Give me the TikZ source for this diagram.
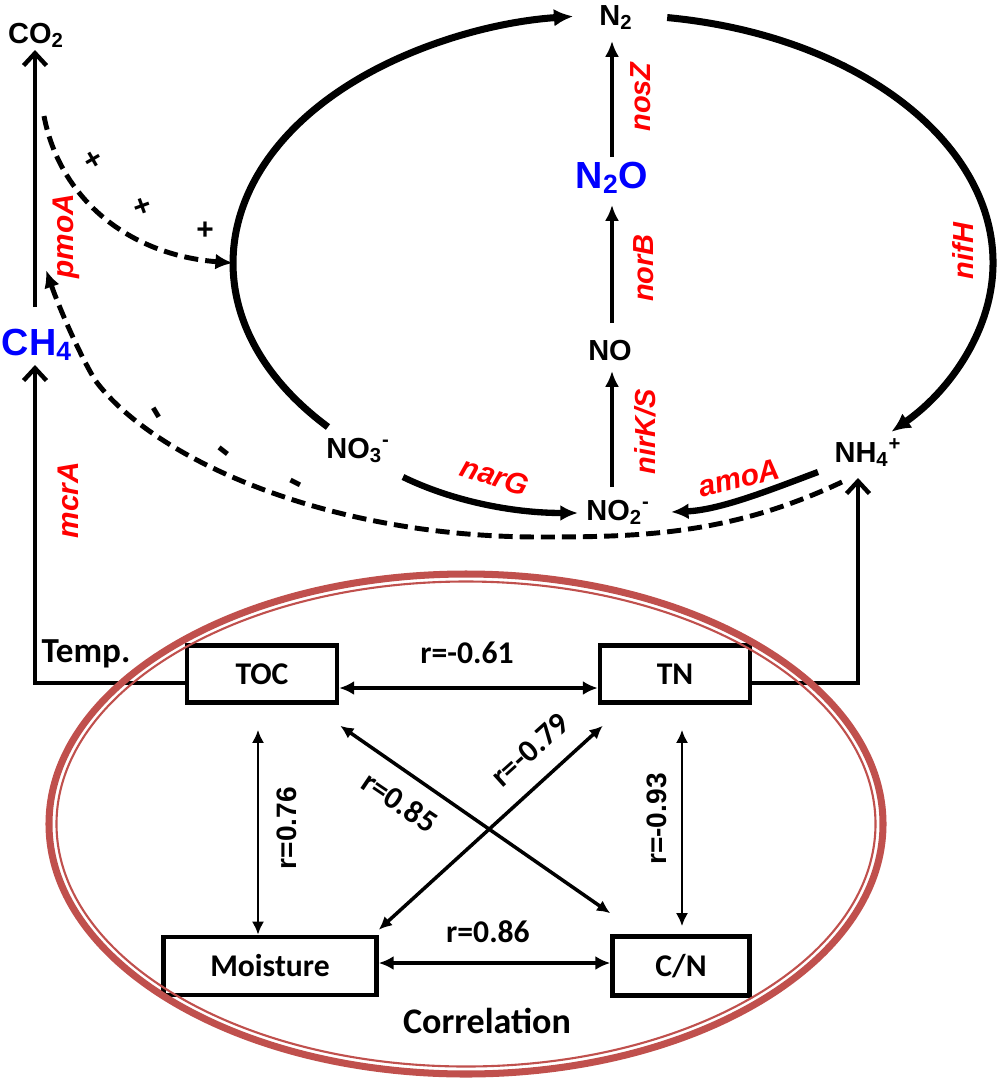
\documentclass[tikz,border=0pt]{standalone}
\usepackage{fontspec}
\setmainfont{Liberation Sans}
\newfontfamily\carl{Carlito}
\usetikzlibrary{arrows.meta,calc}
\definecolor{ellred}{RGB}{192,80,77}
\begin{document}
\begin{tikzpicture}[x=0.02cm,y=-0.02cm,
  chem/.style={font=\fontsize{16.5}{18}\selectfont\bfseries, inner sep=0pt, anchor=base},
  bigchem/.style={font=\fontsize{21.5}{24}\selectfont\bfseries, text=blue, inner sep=0pt, anchor=base},
  gene/.style={font=\fontsize{16.5}{18}\selectfont\bfseries\itshape, text=red, inner sep=0pt},
  genebig/.style={font=\fontsize{17}{19}\selectfont\bfseries\itshape, text=red, inner sep=0pt},
  box/.style={draw, line width=2.6pt, inner sep=0pt, font=\carl\bfseries\fontsize{18}{20}\selectfont},
  rlab/.style={font=\carl\bfseries\fontsize{18}{20}\selectfont, inner sep=0pt},
  rlabA/.style={font=\bfseries\fontsize{16}{18}\selectfont, inner sep=0pt},
  pm/.style={font=\bfseries\fontsize{17}{19}\selectfont, inner sep=0pt},
  mm/.style={font=\bfseries\fontsize{24}{26}\selectfont, inner sep=0pt},
  thinarr/.style={line width=2.3pt, -{Latex[length=9pt,width=8pt]}},
  bigarc/.style={line width=4pt, -{Latex[length=11pt,width=10pt]}},
  fatarr/.style={line width=3.6pt, -{Latex[length=10pt,width=9pt]}},
  chev/.style={line width=2.5pt, -{Straight Barb[length=7pt,width=13pt]}},
  dashl/.style={line width=2.8pt, dash pattern=on 8pt off 4pt},
  corr/.style={line width=1.6pt, {Latex[length=7.5pt,width=7pt]}-{Latex[length=7.5pt,width=7pt]}},
  corrh/.style={line width=2.3pt, {Latex[length=8.5pt,width=8pt]}-{Latex[length=8.5pt,width=8pt]}}
]
\useasboundingbox (0,0) rectangle (1000,1086);

% ---------- chemical species ----------
\node[chem] (co2) at (36,43) {CO\textsubscript{2}};
\node[bigchem] (ch4) at (37,355) {CH\textsubscript{4}};
\node[chem] (n2) at (616,25) {N\textsubscript{2}};
\node[bigchem] (n2o) at (612,188) {N\textsubscript{2}O};
\node[chem] (no) at (610,360) {NO};
\node[chem] (no3) at (358,458) {NO\textsubscript{3}\textsuperscript{-}};
\node[chem] (no2) at (618,520) {NO\textsubscript{2}\textsuperscript{-}};
\node[chem] (nh4) at (868,462) {NH\textsubscript{4}\textsuperscript{+}};

% ---------- N cycle ellipse arcs ----------
\coordinate (nc) at (613,263);
\draw[bigarc] ($(nc)+(138.6:380 and 248)$) arc[start angle=138.6, end angle=264, x radius=380, y radius=248];
\draw[bigarc] ($(nc)+(-81.8:380 and 248)$) arc[start angle=-81.8, end angle=42.9, x radius=380, y radius=248];

% ---------- vertical denitrification arrows ----------
\draw[thinarr] ($(n2o.base)+(0,-31)$) -- ($(n2.base)+(-4,16)$);
\draw[thinarr] ($(no.base)+(2,-37)$) -- ($(n2o.base)+(0,17)$);
\draw[thinarr] ($(no2.base)+(-6,-33)$) -- ($(no.base)+(2,11)$);

% ---------- narG / amoA ----------
\draw[fatarr] ($(no3.base)+(45,19)$) .. controls (450,500) and (510,513) .. ($(no2.base)+(-40,-7)$);
\draw[fatarr] ($(nh4.base)+(-50,10)$) .. controls (770,490) and (720,510) .. ($(no2.base)+(53,-8)$);

% ---------- CH4 -> CO2 ----------
\draw[chev] ($(ch4.base)+(-2,-48)$) -- ($(co2.base)+(-1,7)$);

% ---------- dashed influence curves ----------
\coordinate (pstart) at (44,116);
\draw[dashl, -{Latex[length=10pt,width=9pt]}] (pstart) .. controls (60,200) and (130,255) .. ($(nc)+(180:380 and 248)$);
\coordinate (mend) at (46,270);
\draw[dashl, -{Latex[length=10pt,width=9pt]}] ($(nh4.base)+(-26,20)$) .. controls (730,535) and (640,537) .. (540,537)
   .. controls (320,537) and (150,455) .. (95,380) .. controls (80,355) and (60,310) .. (mend);

\node[pm, rotate=30] (p1) at (94,161) {+};
\node[pm, rotate=20] (p2) at (143,207) {+};
\node[pm] (p3) at (205,231) {+};
\node[mm, rotate=-59] (m1) at (153,415) {-};
\node[mm, rotate=-38] (m2) at (221,455) {-};
\node[mm, rotate=-27] (m3) at (294,487) {-};

% ---------- gene labels ----------
\node[genebig, rotate=90] (pmoa) at (66,236) {pmoA};
\node[genebig, rotate=90] (mcra) at (68,500) {mcrA};
\node[gene, rotate=90] (nosz) at (641,97) {nosZ};
\node[gene, rotate=90] (norb) at (644,268) {norB};
\node[gene, rotate=90] (nirk) at (645,432) {nirK/S};
\node[gene, rotate=90] (nifh) at (963,251) {nifH};
\node[genebig, rotate=-18] (narg) at (495,476) {narG};
\node[genebig, rotate=14] (amoa) at (739,478) {amoA};

% ---------- correlation boxes ----------
\node[box, minimum width=3cm, minimum height=1.14cm] (toc) at (262,674) {TOC};
\node[box, minimum width=3cm, minimum height=1.14cm] (tn) at (675,674) {TN};
\node[box, minimum width=4.26cm, minimum height=1.16cm] (moist) at (270,966) {Moisture};
\node[box, minimum width=2.74cm, minimum height=1.18cm] (cn) at (681,966) {C/N};

\node[font=\carl\bfseries\fontsize{20}{22}\selectfont, inner sep=0pt, anchor=base] (temp) at (86,662) {Temp.};
\node[font=\carl\bfseries\fontsize{20.5}{22}\selectfont, inner sep=0pt, anchor=base] (corrl) at (487,1033) {Correlation};

% links to top part
\draw[chev] ($(toc.west)+(0,9)$) -| ($(ch4.base)+(-2,10)$);
\draw[chev] ($(tn.east)+(0,9)$) -| ($(nh4.base)+(-10,16)$);

% correlation arrows
\draw[corrh] ($(toc.east)+(0,14)$) -- ($(tn.west)+(0,14)$);
\draw[corrh] ($(moist.east)+(0,-3)$) -- ($(cn.west)+(0,-3)$);
\draw[corr] ($(toc.south)+(-4,25)$) -- ($(moist.north)+(-12,0)$);
\draw[corr] ($(tn.south)+(7,25)$) -- ($(cn.north)+(1,-8)$);
\draw[corr, line width=2pt] ($(toc.south east)+(1,21)$) -- ($(cn.north west)+(0,-21)$);
\draw[corr, line width=2pt] ($(moist.north east)+(0,-5)$) -- ($(tn.south west)+(5,21)$);

\node[rlab, anchor=base] (r1) at (467,663) {r=-0.61};
\node[rlab, anchor=base] (r2) at (488,942) {r=0.86};
\node[rlabA, rotate=90] (r3) at (287,828) {r=0.76};
\node[rlabA, rotate=90] (r4) at (657,819) {r=-0.93};
\node[rlab, rotate=-34] (r5) at (400,802) {r=0.85};
\node[rlab, rotate=42] (r6) at (530,750) {r=-0.79};

% ---------- red double ellipse ----------
\draw[ellred, line width=4pt] (466,824) ellipse [x radius=417, y radius=250];
\draw[ellred, line width=1.2pt] (466,824) ellipse [x radius=409.5, y radius=242.5];
\end{tikzpicture}
\end{document}
